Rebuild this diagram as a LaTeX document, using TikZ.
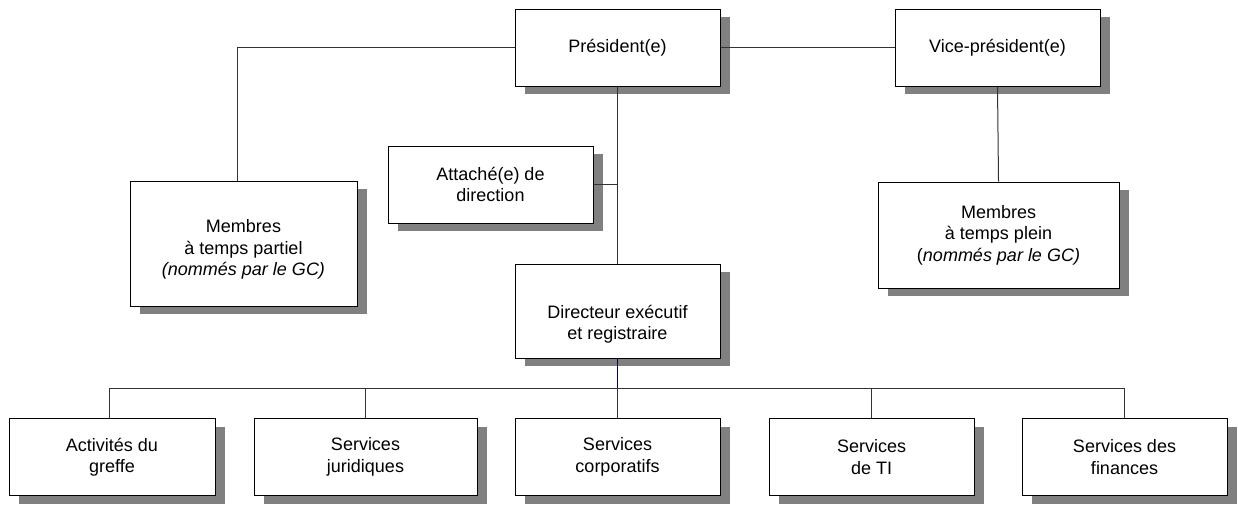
\documentclass[tikz,border=0pt]{standalone}
\usepackage{fontspec}
\setmainfont{Liberation Sans}
\usepackage{tikz}
\usetikzlibrary{shadows}

\begin{document}
\begin{tikzpicture}
        [
          x=1pt, y=-1pt,
          every node/.style={align=center, font=\fontsize{18}{21.5}\selectfont},
          box/.style={draw=black, line width=1pt, fill=white, inner sep=2pt,
            minimum width=205pt, minimum height=77pt,
            drop shadow={shadow xshift=10pt, shadow yshift=-8pt, fill=black!50, opacity=1}},
          edge/.style={draw=black!80, line width=1pt}
        ]
        \useasboundingbox (0,0) rectangle (1238,504);

        % top level
        \node[box] (pres) at (617.5,47.5) {Président(e)};
        \node[box] (vp) at (997.5,47.5) {Vice-président(e)};

        % members and staff
        \node[box, minimum width=227pt, minimum height=125pt,
          label={[yshift=-6pt]center:{Membres\\à temps partiel\\\textit{(nommés par le GC)}}}]
          (mpart) at (243.5,243.5) {};
        \node[box, minimum width=241pt, minimum height=106pt] (mplein) at (998.5,235)
          {Membres\\à temps plein\\(\textit{nommés par le GC)}};
        \node[box] (att) at (490.5,184.5) {Attaché(e) de\\direction};
        \node[box, minimum height=94pt,
          label={[yshift=-13pt]center:{Directeur exécutif\\et registraire}}]
          (dir) at (617.5,311) {};

        % services
        \node[box, minimum width=206pt] (greffe) at (112,457) {Activités du\\greffe};
        \node[box, minimum width=223pt] (jur) at (365.5,457) {Services\\juridiques};
        \node[box] (corp) at (617.5,457) {Services\\corporatifs};
        \node[box] (ti) at (871.5,457) {Services\\de TI};
        \node[box] (fin) at (1124.5,457) {Services des\\finances};

        \coordinate (bus) at (617.5,388);
        \coordinate (join) at (617.5,184.5);

        \begin{scope}[on background layer/.try]
        \draw[edge] (pres.west) -| ([xshift=-6pt]mpart.north);
        \draw[edge] (pres.east) -- (vp.west);
        \draw[edge] (vp.south) -- (mplein.north);
        \draw[edge] (pres.south) -- (dir.north);
        \draw[edge] (att.east) -- (join);
        \draw[edge, draw=blue!40!black] (dir.south) -- (bus);
        \draw[edge] ([xshift=-3pt]greffe.north) |- (fin.north |- bus) -- (fin.north);
        \foreach \s in {jur,corp,ti}
          \draw[edge] (\s.north) -- (\s.north |- bus);
        \end{scope}
    \end{tikzpicture}
\end{document}
